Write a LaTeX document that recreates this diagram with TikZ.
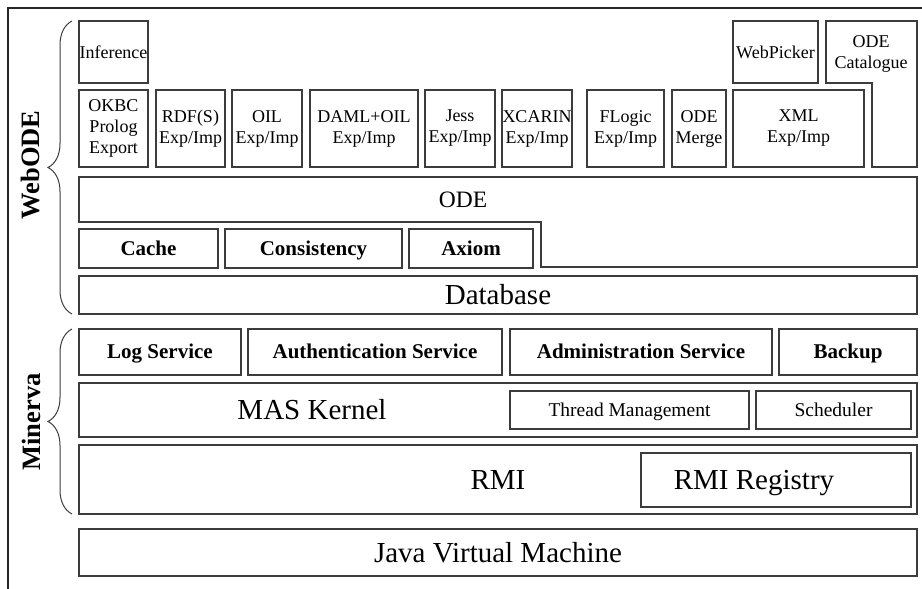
\documentclass[tikz,border=0pt]{standalone}
\usepackage{fontspec}
\setmainfont{Liberation Serif}
\usetikzlibrary{decorations.pathreplacing}
\definecolor{lc}{HTML}{3C3C3C}
\begin{document}
\begin{tikzpicture}[x=1pt,y=-1pt,
  box/.style={draw=lc, line width=1.1pt, inner sep=0pt},
  bx/.style 2 args={minimum width=#1pt, minimum height=#2pt},
  outline/.style={draw=lc, line width=1.1pt},
  sm/.style={font=\fontsize{18pt}{21pt}\selectfont, align=center, inner sep=0pt},
  md/.style={font=\fontsize{19.5pt}{23pt}\selectfont, inner sep=0pt, text height=12.9pt, text depth=0pt},
  bd/.style={font=\fontsize{21pt}{25pt}\selectfont\bfseries, inner sep=0pt, text height=13.9pt, text depth=0pt},
  od/.style={font=\fontsize{23.5pt}{28pt}\selectfont, inner sep=0pt, text height=15.5pt, text depth=0pt},
  lg/.style={font=\fontsize{29pt}{34pt}\selectfont, inner sep=0pt, text height=19.1pt, text depth=0pt},
  side/.style={font=\fontsize{26.5pt}{30pt}\selectfont\bfseries, rotate=90, inner sep=0pt},
  brc/.style={draw=lc, line width=1pt, decorate, decoration={brace, amplitude=24pt}},
  frame/.style={draw=black!85, line width=2pt}]
\useasboundingbox (0,0) rectangle (922,589);
\draw[frame] (922,8) -- (8,8) -- (8,589);

% WebODE top row
\node[box,bx={69}{62},sm] (inf) at (113.5,52) {Inference};
\node[box,bx={85}{62},sm] (webp) at (775.5,52) {WebPicker};
\draw[outline] (826,21) coordinate (catA) -- (917,21) -- (917,167) -- (872,167) -- (872,83) -- (826,83) -- cycle;
\node[sm] (cat) at (871,54) {ODE\\Catalogue};

% export / import row
\node[box,bx={69}{77},sm] (okbc) at (113.5,128.5) {OKBC\\Prolog\\Export};
\node[box,bx={69}{77},sm] (rdf) at (190.5,128.5) {RDF(S)\\Exp/Imp};
\node[box,bx={70}{77},sm] (oil) at (267,128.5) {OIL\\Exp/Imp};
\node[box,bx={108}{77},sm] (daml) at (364,128.5) {DAML+OIL\\Exp/Imp};
\node[box,bx={70}{77},sm] (jess) at (460,128.5) {Jess\\Exp/Imp};
\node[box,bx={70}{77},sm] (xcarin) at (537,128.5) {XCARIN\\Exp/Imp};
\node[box,bx={77}{77},sm] (flogic) at (625.5,128.5) {FLogic\\Exp/Imp};
\node[box,bx={54}{77},sm] (merge) at (699,128.5) {ODE\\Merge};
\node[box,bx={131}{77},sm] (xml) at (798.5,128.5) {XML\\Exp/Imp};

% ODE
\draw[outline] (79,177) -- (917,177) -- (917,267) -- (541,267) -- (541,222) -- (79,222) -- cycle;
\node[od] (ode) at (463,200) {ODE};
\node[box,bx={139}{39},bd] (cache) at (148.5,248.5) {Cache};
\node[box,bx={177}{39},bd] (cons) at (313.5,248.5) {Consistency};
\node[box,bx={124}{39},bd] (axiom) at (471,248.5) {Axiom};
\node[box,bx={838}{38},lg] (db) at (498,295) {Database};

% Minerva
\node[box,bx={162}{46},bd] (log) at (160,352) {Log Service};
\node[box,bx={254}{46},bd] (auth) at (375,352) {Authentication Service};
\node[box,bx={262}{46},bd] (admin) at (641,352) {Administration Service};
\node[box,bx={138}{46},bd] (backup) at (848,352) {Backup};
\node[box,bx={838}{54}] (mas) at (498,410) {};
\node[lg] (mast) at (312,410) {MAS Kernel};
\node[box,bx={239}{38},md] (thread) at (629.5,410) {Thread Management};
\node[box,bx={155}{38},md] (sched) at (833.5,410) {Scheduler};
\node[box,bx={838}{69},lg] (rmi) at (498,479.5) {RMI};
\node[box,bx={270}{54}] (rmireg) at (776,480) {};
\node[lg] (rmiregt) at (754,480) {RMI Registry};
\node[box,bx={838}{47},lg] (jvm) at (498,552.5) {Java Virtual Machine};

% braces and labels
\draw[brc] (72,314) -- (72,21);
\draw[brc] (72,514) -- (72,329);
\node[side] (webode) at (31,165) {WebODE};
\node[side] (minerva) at (31,422) {Minerva};
\end{tikzpicture}
\end{document}
